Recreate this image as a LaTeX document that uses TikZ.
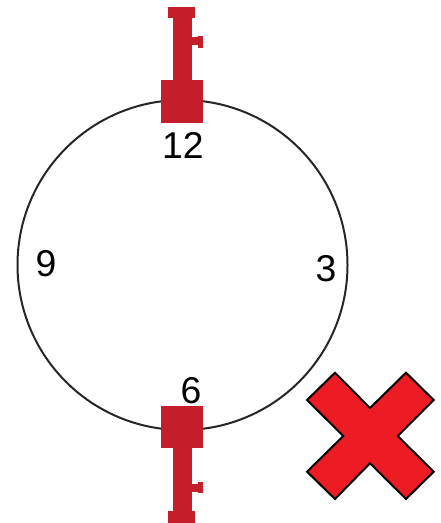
\documentclass[tikz,border=0pt]{standalone}
\usepackage{fontspec}
\setmainfont{Liberation Sans}
\definecolor{keyred}{HTML}{C41E2A}
\definecolor{crossred}{HTML}{ED1C24}
\tikzset{
  px/.style={x=0.75pt,y=-0.75pt},
  keypart/.style={fill=keyred,draw=none},
  dial/.style={draw=black!85,line width=1.5pt},
  hour/.style={inner sep=0pt,font=\fontsize{28}{28}\selectfont,text=black},
  crossmark/.style={fill=crossred,draw=black,line width=1.5pt,line join=miter}
}
\begin{document}
\begin{tikzpicture}[px]
\useasboundingbox (0,0) rectangle (441,523);
\draw[dial] (182.5,265) circle[radius=165*0.75pt];
% top key
\fill[keypart] (168,7) rectangle (195,18);
\fill[keypart] (173,18) rectangle (192,80);
\fill[keypart] (161,80) rectangle (203,123);
\fill[keypart] (185,37.5) rectangle (200,45.5);
\fill[keypart] (186,41.5) circle[radius=4*0.75pt];
\fill[keypart] (198,36) rectangle (203,48);
% bottom key
\fill[keypart] (161,406) rectangle (203,448);
\fill[keypart] (173,448) rectangle (192,511);
\fill[keypart] (168,511) rectangle (195,523);
\fill[keypart] (185,483.5) rectangle (200,491.5);
\fill[keypart] (186,487.5) circle[radius=4*0.75pt];
\fill[keypart] (198,482) rectangle (203,493);
% numbers
\node[hour] (h12) at (183,145) {12};
\node[hour] (h3) at (326,269) {3};
\node[hour] (h6) at (191,391) {6};
\node[hour] (h9) at (46,264) {9};
% cross
\draw[crossmark] (335,372.7) -- (370,408) -- (406,372.7) -- (433.7,400) -- (397.7,436) -- (433.7,471.7) -- (406,499) -- (370,463.3) -- (335,499) -- (307,471.7) -- (343.3,436) -- (307,400) -- cycle;
\end{tikzpicture}
\end{document}
